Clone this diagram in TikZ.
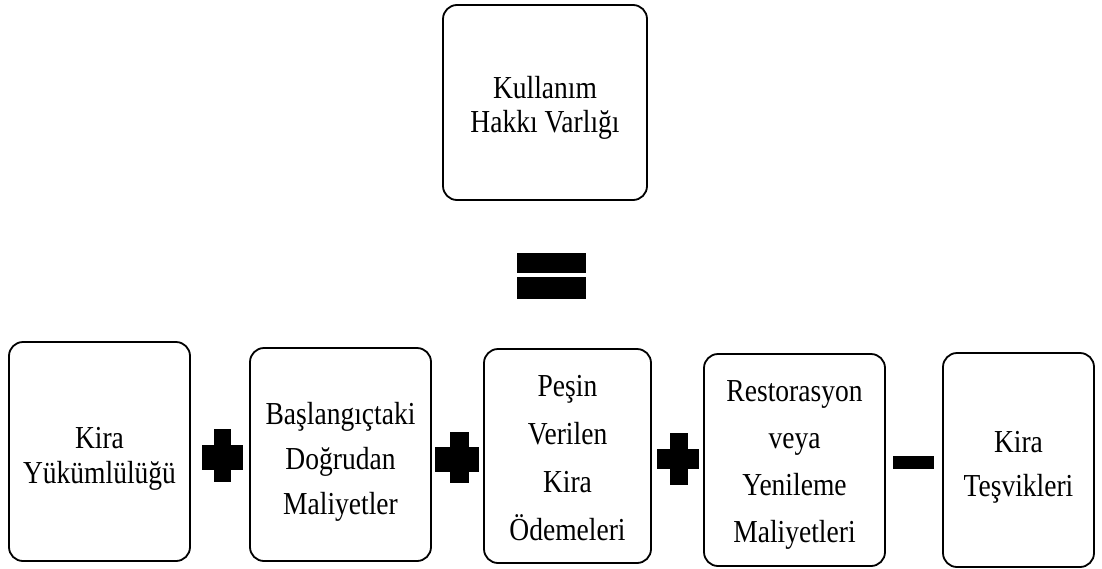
\documentclass[tikz,border=0pt]{standalone}
\usepackage{fontspec}
\setmainfont[FakeStretch=0.86]{Liberation Serif}
\begin{document}
\begin{tikzpicture}[x=1pt,y=-1pt,
  box/.style={draw=black, line width=1.8pt, rounded corners=14pt, inner sep=0pt},
  txt/.style={align=center, inner sep=0pt, font=\fontsize{32}{#1}\selectfont},
  sign/.style={fill=black}]
\useasboundingbox[fill=white] (0,0) rectangle (1102,568);
% top box
\node[box, minimum width=204pt, minimum height=195pt] (top) at (545,102.5) {};
\node[txt=34, yshift=-5pt] (ttop) at (top.center) {Kullanım\\Hakkı Varlığı};
% equals sign
\fill[sign] (517,253) rectangle (586,273);
\fill[sign] (517,277) rectangle (586,299);
% bottom boxes
\node[box, minimum width=181pt, minimum height=219pt] (b1) at (99.5,451.5) {};
\node[txt=35, yshift=-7pt] (t1) at (b1.center) {Kira\\Yükümlülüğü};
\node[box, minimum width=181pt, minimum height=213pt] (b2) at (340.5,454.5) {};
\node[txt=45, yshift=-7pt] (t2) at (b2.center) {Başlangıçtaki\\Doğrudan\\Maliyetler};
\node[box, minimum width=167pt, minimum height=214pt] (b3) at (567.5,456) {};
\node[txt=48, yshift=-2pt] (t3) at (b3.center) {Peşin\\Verilen\\Kira\\Ödemeleri};
\node[box, minimum width=181pt, minimum height=212pt] (b4) at (794.5,460) {};
\node[txt=47, yshift=-5pt] (t4) at (b4.center) {Restorasyon\\veya\\Yenileme\\Maliyetleri};
\node[box, minimum width=151pt, minimum height=214pt] (b5) at (1018.5,460) {};
\node[txt=44, yshift=-7pt] (t5) at (b5.center) {Kira\\Teşvikleri};
% plus signs
\fill[sign] (202,445) rectangle (243,470);
\fill[sign] (214,429) rectangle (231,482);
\fill[sign] (435,447) rectangle (479,472);
\fill[sign] (450,432) rectangle (469,483);
\fill[sign] (657,449) rectangle (699,469);
\fill[sign] (670,433) rectangle (688,485);
% minus sign
\fill[sign] (893,456) rectangle (934,469);
\end{tikzpicture}
\end{document}
